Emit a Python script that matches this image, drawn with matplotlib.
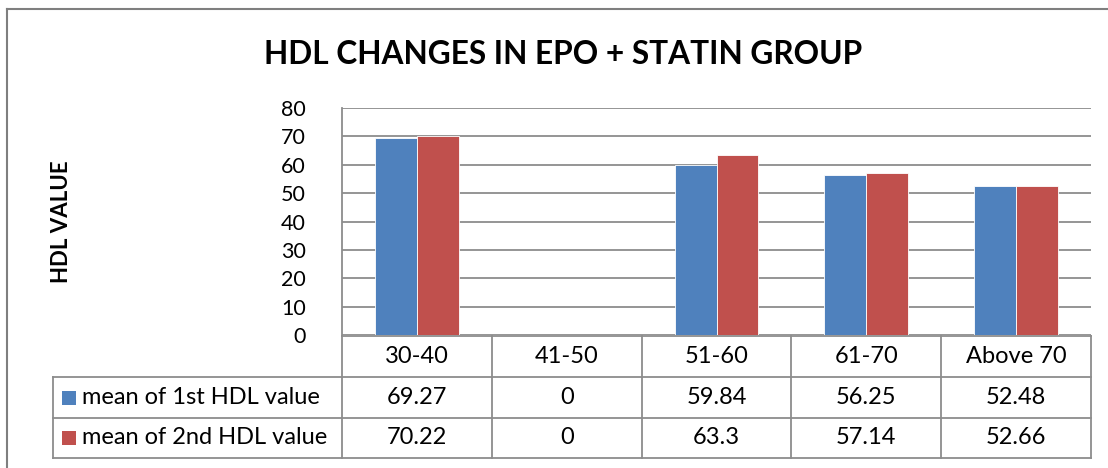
import matplotlib
matplotlib.use("Agg")
import matplotlib.pyplot as plt
from matplotlib.patches import Rectangle
from matplotlib.lines import Line2D

categories = ["30-40", "41-50", "51-60", "61-70", "Above 70"]
series_names = ["mean of 1st HDL value", "mean of 2nd HDL value"]
first_hdl = [69.27, 0, 59.84, 56.25, 52.48]
second_hdl = [70.22, 0, 63.3, 57.14, 52.66]
first_labels = ["69.27", "0", "59.84", "56.25", "52.48"]
second_labels = ["70.22", "0", "63.3", "57.14", "52.66"]
yticks = [0, 10, 20, 30, 40, 50, 60, 70, 80]

W, H = 1108, 468
FONT = ["Lato", "DejaVu Sans"]
plt.rcParams["font.family"] = FONT

fig = plt.figure(figsize=(W / 100, H / 100), dpi=100)
fig.patch.set_facecolor("white")

def fx(px):
    return px / W

def fy(py):
    return 1 - py / H

# Plot area
left, right, top, bottom = 342, 1091, 108, 335
ax = fig.add_axes([fx(left), fy(bottom), fx(right - left), fy(top) - fy(bottom)])
ax.set_xlim(0, len(categories))
ax.set_ylim(0, 80)

blue = "#4F81BD"
red = "#C0504D"
grid_c = "#8C8C8C"
bw = 0.28
xs = [i + 0.5 for i in range(len(categories))]
ax.bar([x - bw / 2 for x in xs], first_hdl, width=bw, color=blue, edgecolor="white", linewidth=0.6, zorder=3)
ax.bar([x + bw / 2 for x in xs], second_hdl, width=bw, color=red, edgecolor="white", linewidth=0.6, zorder=3)

ax.set_yticks(yticks)
ax.set_yticklabels([str(v) for v in yticks], fontsize=15.5)
ax.tick_params(axis="y", length=0, pad=26)
ax.set_xticks([])
ax.yaxis.grid(True, color=grid_c, linewidth=1.3, zorder=0)
for side in ["top", "right", "bottom"]:
    ax.spines[side].set_visible(False)
ax.spines["left"].set_color(grid_c)
ax.spines["left"].set_linewidth(1.3)

# Titles
fig.text(fx(563), fy(54), "HDL CHANGES IN EPO + STATIN GROUP", fontsize=22.8,
         fontweight="bold", ha="center", va="center")
fig.text(fx(61), fy(222), "HDL VALUE", fontsize=16, fontweight="bold",
         rotation=90, ha="center", va="center")

# Outer frame
frame_c = "#7F7F7F"
fig.add_artist(Line2D([fx(7), fx(1108)], [fy(9), fy(9)], transform=fig.transFigure, color=frame_c, lw=1.5))
fig.add_artist(Line2D([fx(7), fx(7)], [fy(9), fy(468)], transform=fig.transFigure, color=frame_c, lw=1.5))

# Data table
tbl_c = "#8C8C8C"
col_edges = [left + (right - left) * i / len(categories) for i in range(len(categories) + 1)]
row_edges = [336, 377, 418, 458]
tleft = 53

def hline(x0, x1, y):
    fig.add_artist(Line2D([fx(x0), fx(x1)], [fy(y), fy(y)], transform=fig.transFigure, color=tbl_c, lw=1.3))

def vline(x, y0, y1):
    fig.add_artist(Line2D([fx(x), fx(x)], [fy(y0), fy(y1)], transform=fig.transFigure, color=tbl_c, lw=1.3))

hline(left, right, row_edges[0])
for y in row_edges[1:]:
    hline(tleft, right, y)
for x in col_edges:
    vline(x, row_edges[0], row_edges[3])
vline(tleft, row_edges[1], row_edges[3])

tfs = 17
for i, cat in enumerate(categories):
    cx = (col_edges[i] + col_edges[i + 1]) / 2
    fig.text(fx(cx), fy((row_edges[0] + row_edges[1]) / 2), cat, fontsize=tfs, ha="center", va="center")
    fig.text(fx(cx), fy((row_edges[1] + row_edges[2]) / 2), first_labels[i], fontsize=tfs, ha="center", va="center")
    fig.text(fx(cx), fy((row_edges[2] + row_edges[3]) / 2), second_labels[i], fontsize=tfs, ha="center", va="center")

for r, (name, col) in enumerate(zip(series_names, [blue, red])):
    cy = (row_edges[r + 1] + row_edges[r + 2]) / 2
    fig.add_artist(Rectangle((fx(62), fy(cy + 7)), fx(14), fy(cy - 7) - fy(cy + 7),
                             transform=fig.transFigure, facecolor=col, edgecolor="none"))
    fig.text(fx(82), fy(cy), name, fontsize=tfs, ha="left", va="center")

fig.savefig("out.png", dpi=100, facecolor="white")
